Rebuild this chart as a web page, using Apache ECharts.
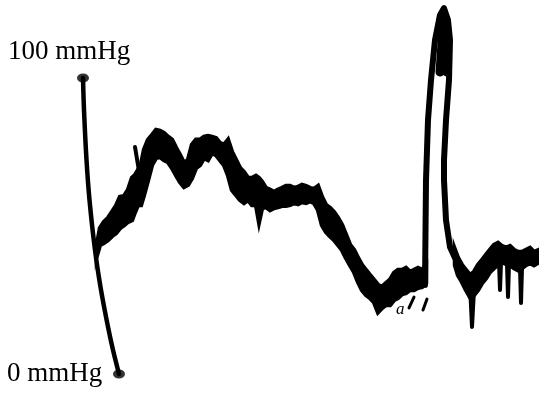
<!DOCTYPE html>
<html>
<head>
<meta charset="utf-8">
<script src="https://cdn.jsdelivr.net/npm/echarts@6/dist/echarts.min.js"></script>
<style>
  html, body { margin: 0; padding: 0; background: #fff; }
  #chart { width: 539px; height: 394px; }
</style>
</head>
<body>
<div id="chart"></div>
<script>
// pressure trace, time in px along the strip, pressure in mmHg
const calT = [83, 84, 86.5, 89.5, 95, 101, 108, 113, 119]
const calP = [100, 89.2, 72.3, 58.8, 41.9, 28.4, 15.9, 8.1, 0]

// noisy band before the pulse (lower / upper edge of the trace)
const timeA = [97, 100, 104, 108, 112, 116, 120, 124, 128, 132, 135, 138, 141, 144, 148, 152, 156, 160, 164, 168,
  172, 176, 180, 184, 188, 192, 196, 200, 204, 208, 212, 216, 220, 224, 228, 232, 236, 240, 244, 248,
  252, 256, 259, 262, 266, 270, 274, 278, 282, 286, 290, 294, 298, 302, 306, 310, 314, 318, 322, 326,
  330, 334, 338, 342, 346, 350, 354, 358, 362, 366, 370, 374, 378, 382, 386, 390, 394, 398, 402, 406,
  410, 414, 418, 422, 426]
const lowA = [40.2, 43.6, 44.3, 45.3, 46.6, 47.6, 49.3, 50.3, 51.4, 52.0, 54.7, 57.1, 57.1, 60.5, 65.5, 70.6, 73.0, 73.3, 72.3, 71.6,
  69.6, 67.2, 64.9, 63.2, 63.9, 66.2, 69.6, 70.6, 73.0, 72.3, 74.7, 74.0, 72.3, 70.6, 67.2, 62.2, 60.5, 58.8, 57.8, 58.8,
  57.1, 57.1, 51.4, 56.1, 56.4, 55.4, 56.1, 56.4, 56.8, 56.8, 57.1, 57.8, 57.4, 58.1, 57.8, 58.4, 57.8, 55.4, 50.3, 48.0,
  46.6, 45.3, 43.6, 41.9, 39.2, 36.8, 34.5, 31.1, 28.4, 26.7, 25.7, 24.3, 20.9, 22.3, 23.3, 23.3, 25.0, 25.7, 27.0, 27.4,
  28.4, 28.4, 29.1, 29.4, 30.7]
const highA = [43.6, 49.3, 51.4, 52.7, 54.7, 56.8, 59.8, 60.1, 62.2, 66.2, 67.2, 68.9, 70.6, 75.7, 79.1, 80.7, 82.4, 82.1, 81.4, 80.1,
  79.1, 76.4, 74.0, 71.3, 72.3, 77.4, 79.1, 79.1, 80.1, 80.4, 80.1, 79.7, 78.0, 77.4, 79.1, 75.0, 72.3, 69.6, 68.2, 66.2,
  66.2, 66.9, 66.2, 64.9, 62.8, 62.2, 61.5, 62.2, 62.8, 63.5, 63.5, 62.8, 63.2, 63.9, 63.5, 62.8, 62.5, 63.5, 59.8, 57.1,
  56.1, 54.7, 52.7, 50.3, 47.0, 43.6, 41.9, 39.2, 36.8, 35.1, 33.4, 31.8, 30.1, 29.4, 30.7, 31.8, 34.1, 35.1, 35.1, 35.8,
  34.5, 35.1, 35.8, 35.1, 36.8]

// the pulse itself
const pulseT = [425, 426, 428, 431, 435, 440, 444, 448, 450, 449, 446, 444, 444, 446, 450, 455]
const pulseP = [30.1, 65.5, 85.8, 99.3, 112.8, 121.3, 123.6, 119.6, 112.8, 99.3, 85.8, 72.3, 65.5, 52.0, 42.9, 39.2]
const capT = [440, 444, 447]
const capP = [102.0, 121.0, 102.0]

// band after the pulse
const timeB = [455, 458, 462, 466, 470, 474, 478, 482, 486, 490, 494, 498, 502, 506, 510, 514, 518, 522, 526, 530, 534, 539]
const lowB = [36.8, 33.4, 31.1, 28.4, 26.0, 26.7, 28.4, 30.7, 32.4, 34.5, 35.8, 36.8, 37.8, 37.2, 36.8, 35.8, 35.1, 35.8, 36.8, 37.5, 36.8, 37.8]
const highB = [41.9, 39.2, 36.8, 35.1, 33.4, 34.5, 36.8, 38.5, 40.2, 41.9, 43.6, 44.3, 43.2, 42.6, 43.2, 41.9, 41.2, 41.2, 41.9, 42.6, 41.2, 41.9]

// thin artefact spikes, '-' breaks the line
const spikeT = [135, 140, 0, 470, 472, 474, 0, 499, 500, 501, 0, 507, 508, 509, 0, 520, 521, 522]
const spikeP = [76.7, 66.6, '-', 30.1, 15.9, 28.4, '-', 37.8, 28.4, 37.8, '-', 37.2, 26.0, 37.0, '-', 35.8, 24.0, 35.8]

// little tick marks beside the "a"
const markT = [409, 414, 0, 423, 427]
const markP = [22.3, 26.0, '-', 21.6, 25.3]

const zip = (xs, ys) => xs.map((x, i) => [x, ys[i]])

const ink = '#000'
const thinLine = (data, width, smooth) => ({
  type: 'line',
  data,
  symbol: 'none',
  smooth: smooth || false,
  lineStyle: { color: ink, width, cap: 'round', join: 'round' },
  connectNulls: false,
  silent: true
})

// filled band between lower and upper edge, mapped through the axes
const band = (xs, lo, hi) => ({
  type: 'custom',
  data: [[xs[0], lo[0]]],
  silent: true,
  renderItem: (params, api) => {
    const top = xs.map((x, i) => api.coord([x, hi[i]]))
    const bottom = xs.map((x, i) => api.coord([x, lo[i]])).reverse()
    return {
      type: 'polygon',
      shape: { points: top.concat(bottom) },
      style: { fill: ink, stroke: ink, lineWidth: 4.5, lineJoin: 'miter' }
    }
  }
})

const label = (text, left, top, size, italic) => ({
  type: 'text',
  left,
  top,
  style: {
    text,
    fill: ink,
    fontFamily: 'Liberation Serif',
    fontSize: size,
    fontStyle: italic ? 'italic' : 'normal'
  }
})

const option = {
  animation: false,
  backgroundColor: '#fff',
  grid: { left: 0, right: 0, top: 0, bottom: 0 },
  xAxis: { type: 'value', min: 0, max: 539, show: false },
  yAxis: { type: 'value', min: -6.76, max: 126.35, show: false },
  graphic: [
    label('100 mmHg', 8, 38, 27),
    label('0 mmHg', 7, 360, 27),
    label('a', 396, 301, 17, true)
  ],
  series: [
    thinLine(zip(calT, calP), 4.5, 0.3),
    band(timeA, lowA, highA),
    band(timeB, lowB, highB),
    thinLine(zip(pulseT, pulseP), 6),
    thinLine(zip(capT, capP), 9),
    thinLine(zip(spikeT, spikeP), 4),
    thinLine(zip(markT, markP), 3),
    {
      type: 'scatter',
      data: [[calT[0], calP[0]], [calT[calT.length - 1], calP[calP.length - 1]]],
      symbol: 'circle',
      symbolSize: [12, 9],
      itemStyle: { color: ink },
      silent: true
    }
  ]
}

const chart = echarts.init(document.getElementById('chart'))
chart.setOption(option)
</script>
</body>
</html>
